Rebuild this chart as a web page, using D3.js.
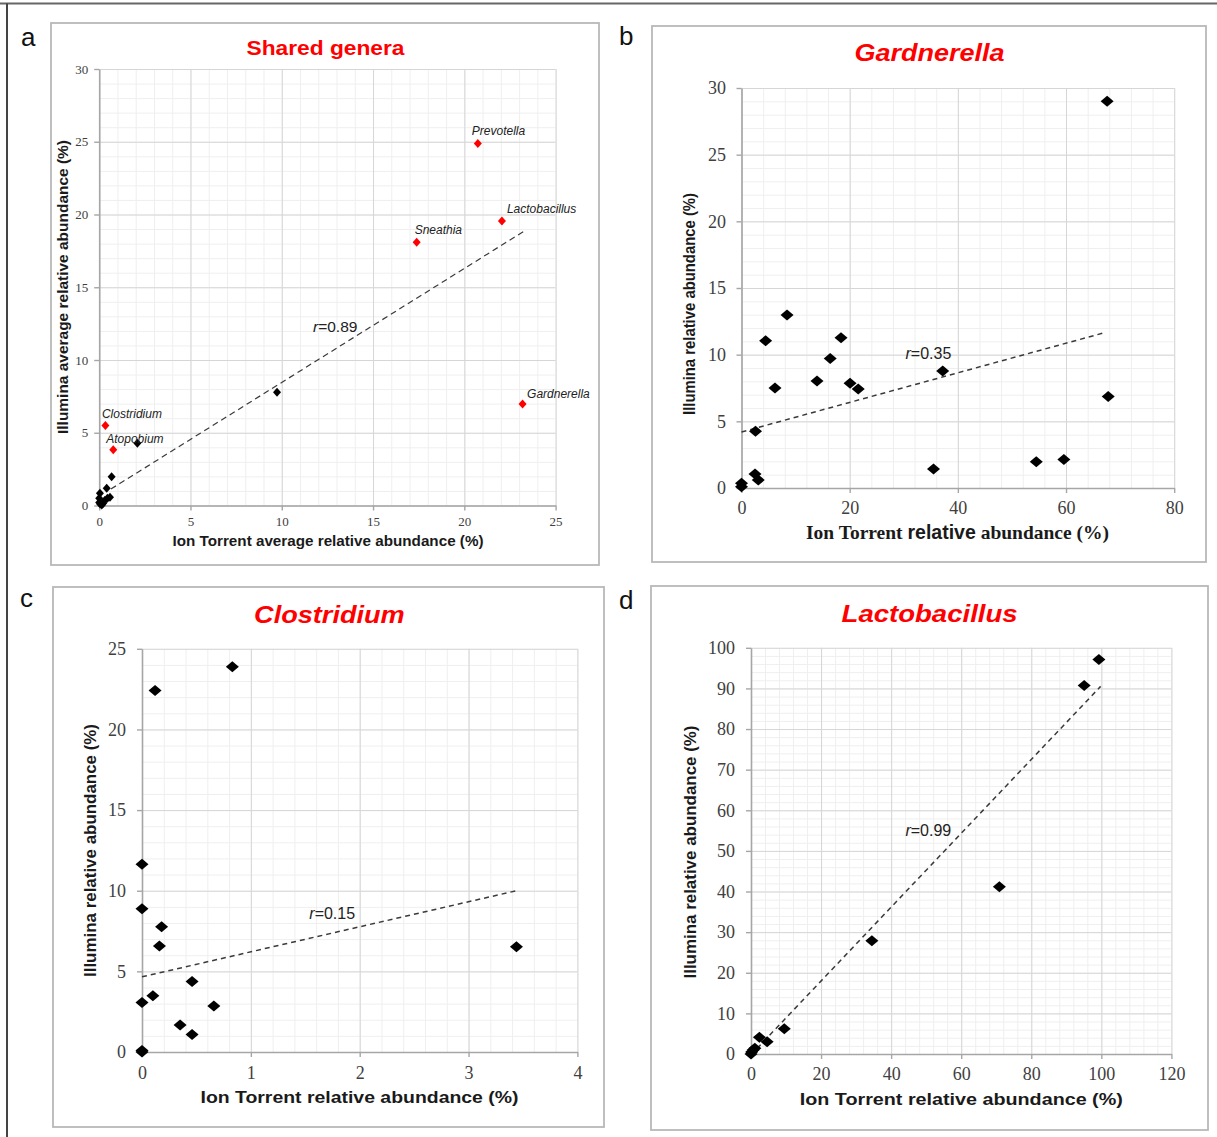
<!DOCTYPE html>
<html><head><meta charset="utf-8">
<script src="https://cdn.jsdelivr.net/npm/d3@7"></script>
<style>html,body{margin:0;padding:0;background:#fff}svg{display:block}</style>
</head><body>
<script>
// ---------- DATA ----------
// Panel a: Shared genera (average relative abundance)
const aBlackX = [9.74, 2.09, 0.68, 0.41, 0.59, 0.04, 0.0, 0.0, 0.14, 0.3, 0.45, 0.05, 0.22];
const aBlackY = [7.78, 4.28, 1.98, 1.18, 0.56, 0.84, 0.5, 0.2, 0.03, 0.35, 0.5, 0.1, 0.15];
const aRedNames = ["Prevotella", "Lactobacillus", "Sneathia", "Gardnerella", "Clostridium", "Atopobium"];
const aRedX = [20.74, 22.06, 17.39, 23.19, 0.34, 0.77];
const aRedY = [24.88, 19.55, 18.1, 6.98, 5.5, 3.83];
const aTrendX = [0.64, 23.23], aTrendY = [1.13, 18.82];
// Panel b: Gardnerella
const bX = [67.6, 67.8, 8.42, 4.46, 18.4, 16.4, 6.19, 13.96, 20.07, 21.58, 37.2, 2.59, 2.5, 3.1, 0, 0, 35.5, 54.5, 59.6];
const bY = [29.0, 6.87, 12.98, 11.04, 11.26, 9.71, 7.5, 8.02, 7.85, 7.42, 8.78, 4.25, 1.05, 0.6, 0.35, 0.1, 1.42, 1.96, 2.13];
const bTrendX = [0, 67.05], bTrendY = [4.2, 11.64];
// Panel c: Clostridium
const cX = [0.83, 0.12, 0, 0, 0.18, 0.16, 3.44, 0.46, 0.1, 0, 0.66, 0.35, 0.46, 0, 0];
const cY = [23.88, 22.42, 11.64, 8.88, 7.76, 6.57, 6.52, 4.37, 3.48, 3.07, 2.85, 1.68, 1.08, 0.1, 0];
const cTrendX = [0, 3.44], cTrendY = [4.66, 10.0];
// Panel d: Lactobacillus
const dX = [99.3, 95.1, 70.9, 34.5, 9.5, 2.4, 4.6, 1.1, 0.6, 0.2, 0];
const dY = [97.15, 90.7, 41.2, 27.9, 6.2, 4.1, 3.0, 1.4, 1.0, 0.5, 0];
const dTrendX = [0, 99.8], dTrendY = [-0.2, 90.5];
// Tick values
const aXTicks = [0, 5, 10, 15, 20, 25], aYTicks = [0, 5, 10, 15, 20, 25, 30];
const bXTicks = [0, 20, 40, 60, 80], bYTicks = [0, 5, 10, 15, 20, 25, 30];
const cXTicks = [0, 1, 2, 3, 4], cYTicks = [0, 5, 10, 15, 20, 25];
const dXTicks = [0, 20, 40, 60, 80, 100, 120], dYTicks = [0, 10, 20, 30, 40, 50, 60, 70, 80, 90, 100];
const rLabels = ["0.89", "0.35", "0.15", "0.99"];

// ---------- DRAW ----------
const W = 1217, H = 1137;
const svg = d3.select("body").append("svg").attr("width", W).attr("height", H);
svg.append("line").attr("x1", 0).attr("x2", W).attr("y1", 3.5).attr("y2", 3.5).attr("stroke", "#666").attr("stroke-width", 2);
svg.append("line").attr("x1", 7).attr("x2", 7).attr("y1", 3.5).attr("y2", H).attr("stroke", "#444").attr("stroke-width", 2);

const SANS = "Liberation Sans, Arial, sans-serif";
const SERIF = "Liberation Serif, Times New Roman, serif";

function drawPanel(p) {
  const g = svg.append("g");
  g.append("rect").attr("x", p.box[0]).attr("y", p.box[1]).attr("width", p.box[2] - p.box[0]).attr("height", p.box[3] - p.box[1])
    .attr("fill", "#fff").attr("stroke", "#b8b8b8").attr("stroke-width", 1.8);
  const x = d3.scaleLinear().domain(p.xd).range(p.xr);
  const y = d3.scaleLinear().domain(p.yd).range(p.yr);
  const ph = p.yr[0] - p.yr[1], pw = p.xr[1] - p.xr[0];
  const minorX = d3.range(p.xd[0], p.xd[1] + 1e-9, p.xMinor);
  const minorY = d3.range(p.yd[0], p.yd[1] + 1e-9, p.yMinor);
  function grid(axis, vals, color, tr) {
    const gg = g.append("g").attr("transform", tr).call(axis.tickValues(vals).tickSize(0).tickFormat(""));
    gg.select(".domain").remove();
    gg.selectAll("line").attr("stroke", color).attr("stroke-width", 1);
    return gg;
  }
  grid(d3.axisBottom(x), minorX, "#efefef", `translate(0,${p.yr[0]})`).selectAll("line").attr("y2", -ph);
  grid(d3.axisLeft(y), minorY, "#efefef", `translate(${p.xr[0]},0)`).selectAll("line").attr("x2", pw);
  grid(d3.axisBottom(x), p.xTicks, "#d6d6d6", `translate(0,${p.yr[0]})`).selectAll("line").attr("y2", -ph);
  grid(d3.axisLeft(y), p.yTicks, "#d6d6d6", `translate(${p.xr[0]},0)`).selectAll("line").attr("x2", pw);
  const ax = g.append("g").attr("transform", `translate(0,${p.yr[0]})`)
    .call(d3.axisBottom(x).tickValues(p.xTicks).tickSizeInner(5).tickSizeOuter(0).tickPadding(p.xPad).tickFormat(d3.format("d")));
  const ay = g.append("g").attr("transform", `translate(${p.xr[0]},0)`)
    .call(d3.axisLeft(y).tickValues(p.yTicks).tickSizeInner(5).tickSizeOuter(0).tickPadding(p.yPad).tickFormat(d3.format("d")));
  [ax, ay].forEach(a => {
    a.select(".domain").attr("stroke", "#a6a6a6").attr("stroke-width", 1.6);
    a.selectAll(".tick line").attr("stroke", "#a6a6a6").attr("stroke-width", 1.4);
    a.selectAll("text").attr("fill", "#404040").style("font-family", SERIF).style("font-size", p.tickFont + "px");
  });
  const tl = d3.line().x(d => x(d[0])).y(d => y(d[1]));
  g.append("path").attr("d", tl(d3.zip(p.trendX, p.trendY))).attr("fill", "none")
    .attr("stroke", "#3a3a3a").attr("stroke-width", p.trendW).attr("stroke-dasharray", p.dash);
  const pts = d3.zip(p.px, p.py);
  const dia = `M0,${-p.hh}L${p.hw},0L0,${p.hh}L${-p.hw},0Z`;
  g.selectAll(null).data(pts).enter().append("path").attr("d", dia)
    .attr("transform", d => `translate(${x(d[0])},${y(d[1])})`).attr("fill", "#000");
  if (p.red) {
    const rp = d3.zip(p.red.x, p.red.y, p.red.names, p.red.off);
    g.selectAll(null).data(rp).enter().append("path").attr("d", dia)
      .attr("transform", d => `translate(${x(d[0])},${y(d[1])})`).attr("fill", "#ff0000");
    g.selectAll(null).data(rp).enter().append("text")
      .attr("x", d => x(d[0]) + d[3][0]).attr("y", d => y(d[1]) + d[3][1])
      .attr("dy", "0.35em").text(d => d[2])
      .style("font-family", SANS).style("font-style", "italic").style("font-size", "12px").attr("fill", "#222");
  }
  const rt = g.append("text").attr("x", p.rPos[0]).attr("y", p.rPos[1])
    .style("font-family", SANS).style("font-size", p.rFont + "px").attr("fill", "#222");
  rt.append("tspan").style("font-style", "italic").text("r");
  rt.append("tspan").text("=" + p.r);
  g.append("text").attr("x", p.title.pos[0]).attr("y", p.title.pos[1]).attr("text-anchor", "middle")
    .attr("textLength", p.title.len).attr("lengthAdjust", "spacingAndGlyphs")
    .style("font-family", SANS).style("font-weight", "bold").style("font-style", p.title.italic ? "italic" : "normal")
    .style("font-size", p.title.size + "px").attr("fill", "#ff0000").text(p.title.text);
  g.append("text").attr("x", p.letter.pos[0]).attr("y", p.letter.pos[1])
    .style("font-family", SANS).style("font-size", "26px").attr("fill", "#111").text(p.letter.text);
  const xl = g.append("text").attr("x", p.xLab.pos[0]).attr("y", p.xLab.pos[1]).attr("text-anchor", "middle")
    .style("font-weight", "bold").style("font-size", p.xLab.size + "px").attr("fill", "#1a1a1a");
  if (p.xLab.parts) {
    p.xLab.parts.forEach(pt => xl.append("tspan").style("font-family", pt[1] ? SERIF : SANS).text(pt[0]));
  } else {
    xl.style("font-family", SANS).attr("textLength", p.xLab.len).attr("lengthAdjust", "spacingAndGlyphs").text(p.xLab.text);
  }
  g.append("text").attr("transform", `translate(${p.yLab.pos[0]},${p.yLab.pos[1]}) rotate(-90)`).attr("text-anchor", "middle")
    .attr("dy", "0.35em").attr("textLength", p.yLab.len).attr("lengthAdjust", "spacingAndGlyphs")
    .style("font-family", SANS).style("font-weight", "bold").style("font-size", p.yLab.size + "px").attr("fill", "#1a1a1a").text(p.yLab.text);
}

drawPanel({
  box: [51, 23, 599, 565], xr: [99.2, 555.6], yr: [505.5, 69], xd: [0, 25], yd: [0, 30],
  xTicks: aXTicks, yTicks: aYTicks, xMinor: 1, yMinor: 1, tickFont: 13, xPad: 6, yPad: 6,
  px: aBlackX, py: aBlackY, hw: 4, hh: 4.5,
  red: { x: aRedX, y: aRedY, names: aRedNames, off: [[-6, -12.5], [5, -12], [-2, -12], [4.5, -10], [-3.5, -11.5], [-7, -11]] },
  trendX: aTrendX, trendY: aTrendY, trendW: 1.2, dash: "6,4",
  r: rLabels[0], rPos: [313, 332], rFont: 15.5,
  title: { text: "Shared genera", pos: [325.5, 55], size: 21, len: 158, italic: false },
  letter: { text: "a", pos: [21, 46] },
  xLab: { text: "Ion Torrent average relative abundance (%)", pos: [328, 546], size: 14, len: 311 },
  yLab: { text: "Illumina average relative abundance (%)", pos: [63.5, 287], size: 14, len: 294 }
});

drawPanel({
  box: [652, 26, 1206, 562], xr: [741.5, 1174.2], yr: [488, 88], xd: [0, 80], yd: [0, 30],
  xTicks: bXTicks, yTicks: bYTicks, xMinor: 4, yMinor: 1, tickFont: 18, xPad: 8, yPad: 10.5,
  px: bX, py: bY, hw: 6.5, hh: 5.5,
  trendX: bTrendX, trendY: bTrendY, trendW: 1.5, dash: "5,4",
  r: rLabels[1], rPos: [905.5, 358.5], rFont: 16,
  title: { text: "Gardnerella", pos: [929.6, 61], size: 24, len: 150, italic: true },
  letter: { text: "b", pos: [619, 45] },
  xLab: { parts: [["Ion Torrent ", true], ["relative", false], [" abundance (%)", true]], pos: [957.5, 538.5], size: 19.5 },
  yLab: { text: "Illumina relative abundance (%)", pos: [689.8, 304], size: 16, len: 222 }
});

drawPanel({
  box: [53, 587, 604, 1127], xr: [142, 577.4], yr: [1052, 648.8], xd: [0, 4], yd: [0, 25],
  xTicks: cXTicks, yTicks: cYTicks, xMinor: 0.2, yMinor: 1, tickFont: 18, xPad: 9, yPad: 11,
  px: cX, py: cY, hw: 6.5, hh: 5.5,
  trendX: cTrendX, trendY: cTrendY, trendW: 1.5, dash: "5,4",
  r: rLabels[2], rPos: [309.3, 918.5], rFont: 16,
  title: { text: "Clostridium", pos: [329.4, 623], size: 24, len: 150.6, italic: true },
  letter: { text: "c", pos: [20, 607] },
  xLab: { text: "Ion Torrent relative abundance (%)", pos: [359.5, 1103], size: 16, len: 318 },
  yLab: { text: "Illumina relative abundance (%)", pos: [90.3, 850.5], size: 16, len: 253 }
});

drawPanel({
  box: [651, 586, 1208, 1130], xr: [751, 1171.4], yr: [1054, 647.8], xd: [0, 120], yd: [0, 100],
  xTicks: dXTicks, yTicks: dYTicks, xMinor: 4, yMinor: 2, tickFont: 18, xPad: 8, yPad: 11,
  px: dX, py: dY, hw: 6.5, hh: 5.5,
  trendX: dTrendX, trendY: dTrendY, trendW: 1.5, dash: "5,4",
  r: rLabels[3], rPos: [905.4, 836], rFont: 16,
  title: { text: "Lactobacillus", pos: [929.6, 622], size: 24, len: 176, italic: true },
  letter: { text: "d", pos: [619, 609] },
  xLab: { text: "Ion Torrent relative abundance (%)", pos: [961.3, 1104.5], size: 16, len: 323 },
  yLab: { text: "Illumina relative abundance (%)", pos: [690.1, 852], size: 16, len: 253 }
});
</script>
</body></html>
